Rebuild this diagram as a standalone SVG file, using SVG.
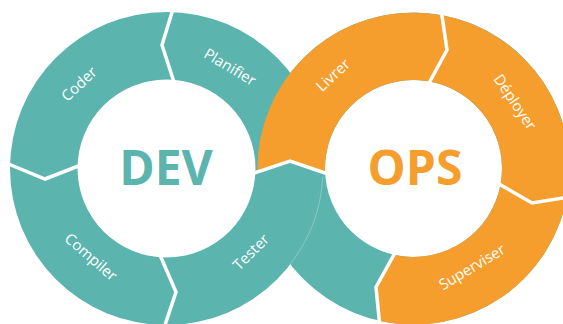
<svg xmlns="http://www.w3.org/2000/svg" width="563" height="324" viewBox="0 0 563 324">
<style>
.teal{fill:#5cb4ae}
.orange{fill:#f59e2e}
.lbl{font-family:"Open Sans","Liberation Sans",sans-serif;font-size:15px;fill:#ffffff;text-anchor:middle}
.big{font-family:"Open Sans","Liberation Sans",sans-serif;font-size:48px;font-weight:700;text-anchor:middle}
.sep{fill:none;stroke:#ffffff;stroke-width:3.5;stroke-linejoin:miter}
</style>
<rect x="0" y="0" width="563" height="324" fill="#ffffff"/>
<g id="ops-ring-base">
<path class="teal" fill-rule="evenodd" d="M257.5,168.5 a156,156 0 1,0 312,0 a156,156 0 1,0 -312,0 Z M325,168.5 a88.5,88.5 0 1,0 177,0 a88.5,88.5 0 1,0 -177,0 Z"/>
</g>
<g id="dev-ring">
<path class="teal" fill-rule="evenodd" d="M10,168.5 a156.5,156.5 0 1,0 313,0 a156.5,156.5 0 1,0 -313,0 Z M77.5,168.5 a89,89 0 1,0 178,0 a89,89 0 1,0 -178,0 Z"/>
<path d="M322.8,176.7 A156.5,156.5 0 0,1 290.5,263.8" fill="none" stroke="#ffffff" stroke-opacity="0.35" stroke-width="0.8"/>
</g>
<g id="ops-ring">
<path class="orange" d="M257.5,172 A156,156 0 1,1 379.5,320.9 L376,287 L393,254.6 A88.5,88.5 0 1,0 325.1,173 L290,161 Z"/>
</g>
<g id="connectors">
<polyline class="sep" points="173,9 162,45 174,82"/>
<polyline class="sep" points="6,163 45,179 81,165"/>
<polyline class="sep" points="160,255 176,292 164,328"/>
<polyline class="sep" points="254,173 290,161 328,174"/>
<polyline class="sep" points="441,9 447,50 429,83"/>
<polyline class="sep" points="499,184 532,203 575,196"/>
<polyline class="sep" points="396,251 376,287 380,328"/>
</g>
<g id="dev-label"><text class="big" x="166" y="185" fill="#5cb4ae">DEV</text></g>
<g id="ops-label"><text class="big" x="415" y="185" fill="#f59e2e">OPS</text></g>
<g id="planifier"><text class="lbl" transform="translate(230,67) rotate(31)" dy="0.35em">Planifier</text></g>
<g id="coder"><text class="lbl" transform="translate(79,84) rotate(-43)" dy="0.35em">Coder</text></g>
<g id="compiler"><text class="lbl" transform="translate(91,257) rotate(41)" dy="0.35em">Compiler</text></g>
<g id="tester"><text class="lbl" transform="translate(251,252) rotate(-45)" dy="0.35em">Tester</text></g>
<g id="livrer"><text class="lbl" transform="translate(333,75) rotate(-43)" dy="0.35em">Livrer</text></g>
<g id="deployer"><text class="lbl" transform="translate(515,102) rotate(56)" dy="0.35em">Déployer</text></g>
<g id="superviser"><text class="lbl" transform="translate(472,267) rotate(-31)" dy="0.35em">Superviser</text></g>
</svg>
